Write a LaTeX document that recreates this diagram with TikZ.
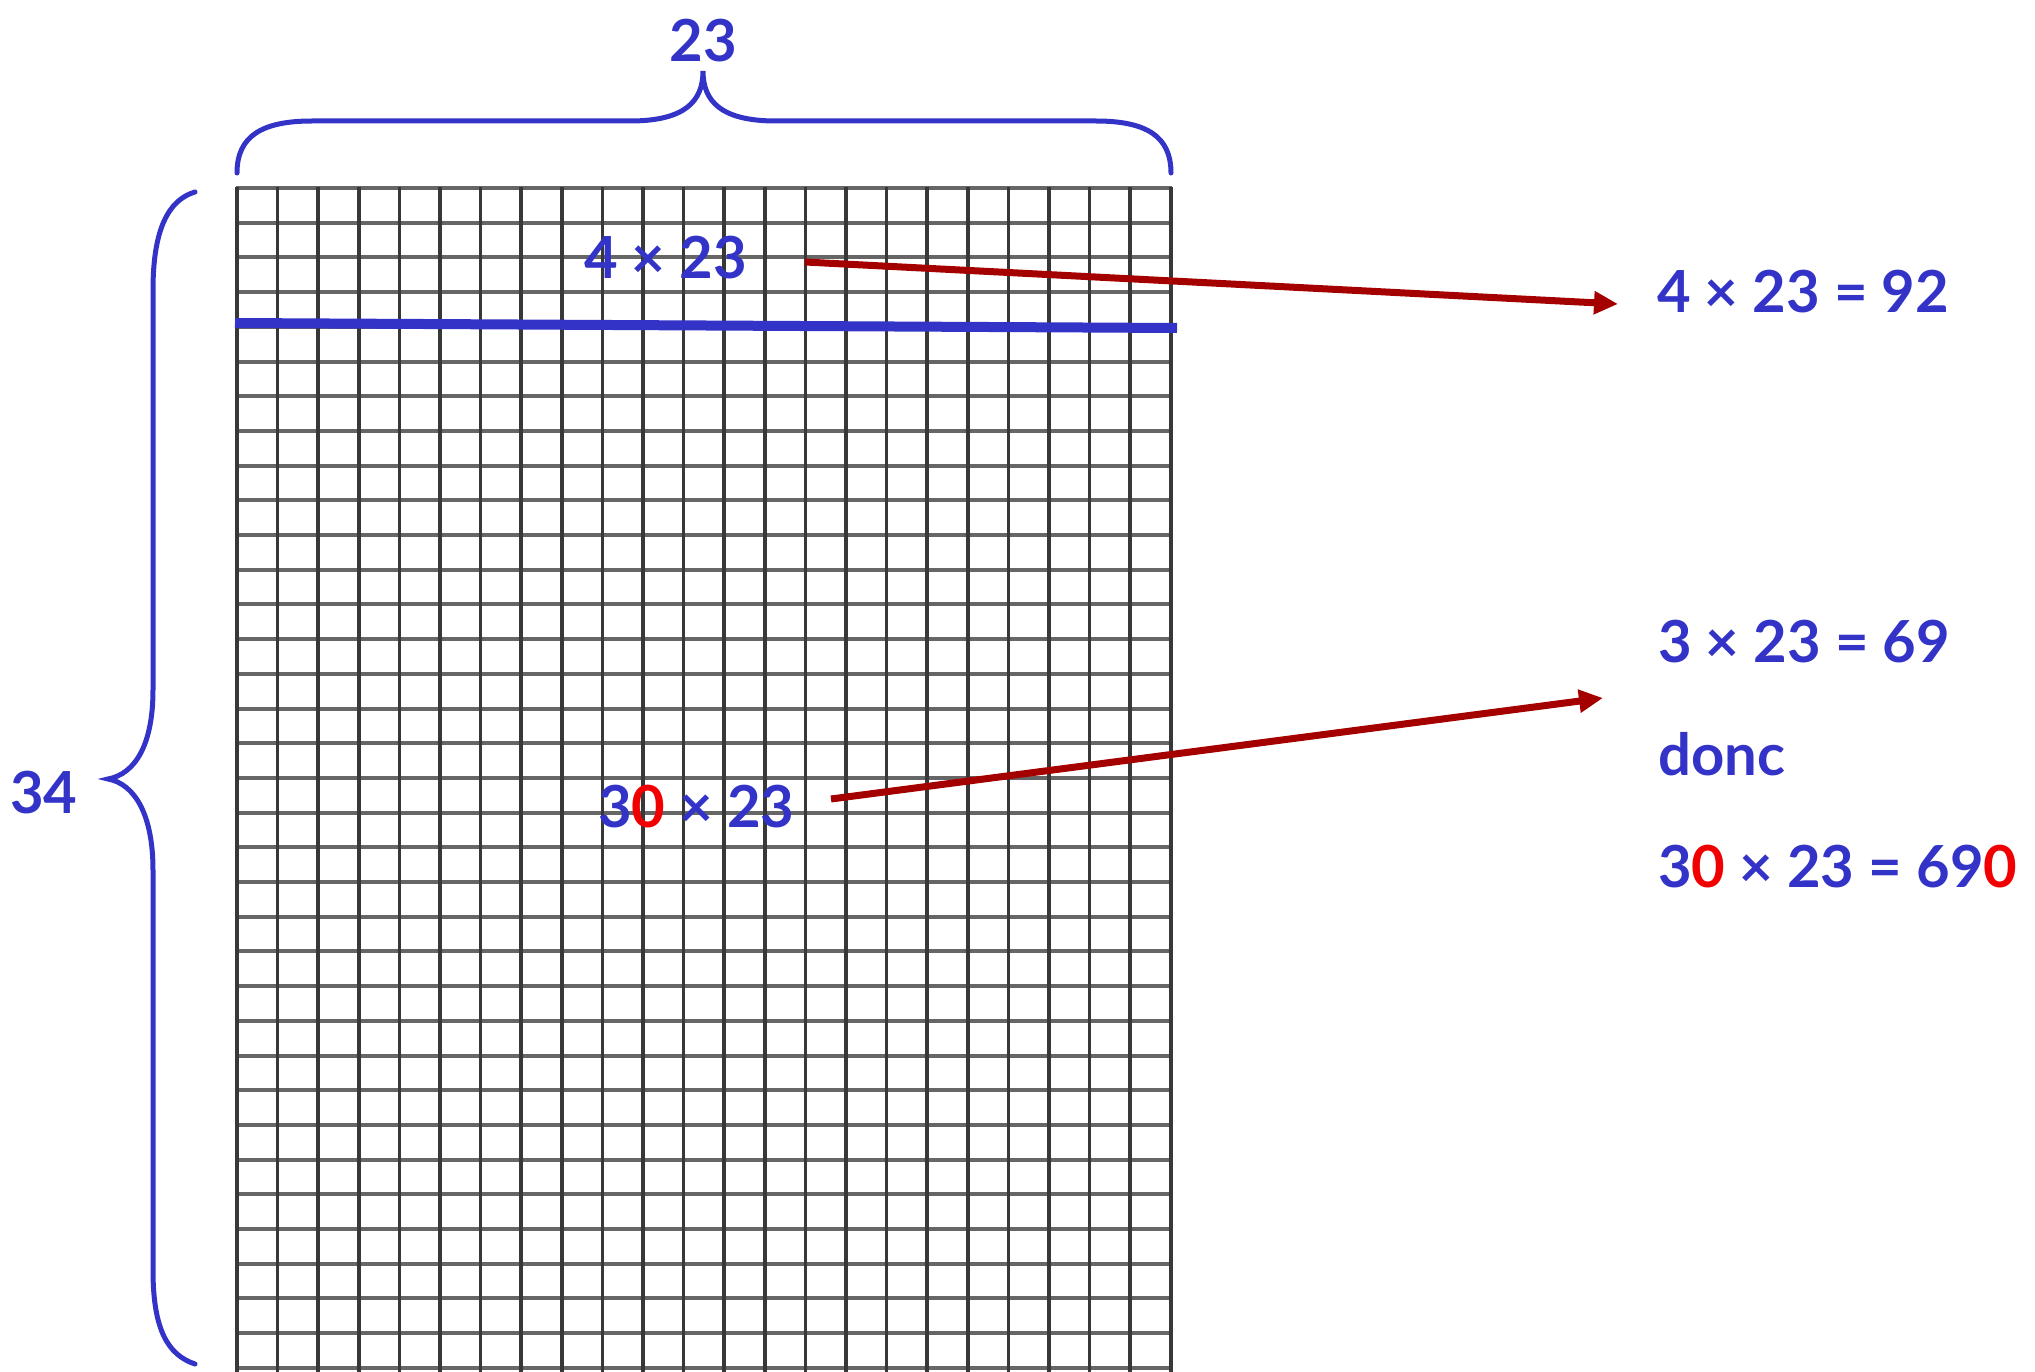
\documentclass[tikz,border=0pt]{standalone}
\usepackage{fontspec}
\setmainfont{Lato}
\usetikzlibrary{arrows.meta}
\definecolor{tblue}{RGB}{51,51,200}
\definecolor{tred}{RGB}{240,0,0}
\definecolor{ared}{RGB}{165,0,0}
\tikzset{
  vline/.style={draw=black!78,line width=3.6pt},
  hline/.style={draw=black!60,line width=4pt},
  lbl/.style={text=tblue,font=\bfseries\fontsize{58}{70}\selectfont,inner sep=0pt,anchor=base west},
  brace/.style={draw=tblue,line width=5pt,line cap=round},
  redarrow/.style={draw=ared,line width=7pt,-{Triangle[length=24pt,width=22pt]}}
}
\begin{document}
\begin{tikzpicture}[x=1pt,y=-1pt]
\useasboundingbox (0,0) rectangle (2035,1372);
\fill[white] (0,0) rectangle (2035,1372);
% grid
\foreach \j in {0,...,34}
  \draw[hline] (236,{188+\j*34.7}) -- (1172,{188+\j*34.7});
\foreach \i in {0,...,23}
  \draw[vline] ({237+\i*40.6},187) -- ({237+\i*40.6},1372);
% blue separating line
\draw[draw=tblue,line width=10pt] (235,323) -- (1177,328);
% top brace
\draw[brace] (237,173) .. controls (237,136) and (262,121) .. (312,121)
  -- (630,121) .. controls (684,121) and (703,102) .. (703,71)
  .. controls (703,102) and (722,121) .. (776,121)
  -- (1096,121) .. controls (1146,121) and (1171,136) .. (1171,173);
% left brace
\draw[brace] (195,192) .. controls (168,200) and (153,230) .. (153,290)
  -- (153,690) .. controls (153,745) and (135,774) .. (108,779)
  .. controls (135,784) and (153,815) .. (153,870)
  -- (153,1270) .. controls (153,1330) and (168,1355) .. (195,1364);
% labels
\node[lbl,anchor=base] (t23) at (703,62) {23};
\node[lbl,anchor=base] (t34) at (44,813) {34};
\node[lbl] (g4) at (584,279) {4 × 23};
\node[lbl] (g30) at (598,827) {3\textcolor{tred}{0} × 23};
\node[lbl] (r92) at (1657,313) {4 × 23 = 92};
\node[lbl] (r69) at (1658,662) {3 × 23 = 69};
\node[lbl] (rdonc) at (1658,775) {donc};
\node[lbl] (r690) at (1658,887) {3\textcolor{tred}{0} × 23 = 69\textcolor{tred}{0}};
% arrows
\coordinate (a1s) at (805,262);
\coordinate (a1e) at (1618,304);
\coordinate (a2s) at (831,799);
\coordinate (a2e) at (1603,698);
\draw[redarrow] (a1s) -- (a1e);
\draw[redarrow] (a2s) -- (a2e);
\end{tikzpicture}
\end{document}
